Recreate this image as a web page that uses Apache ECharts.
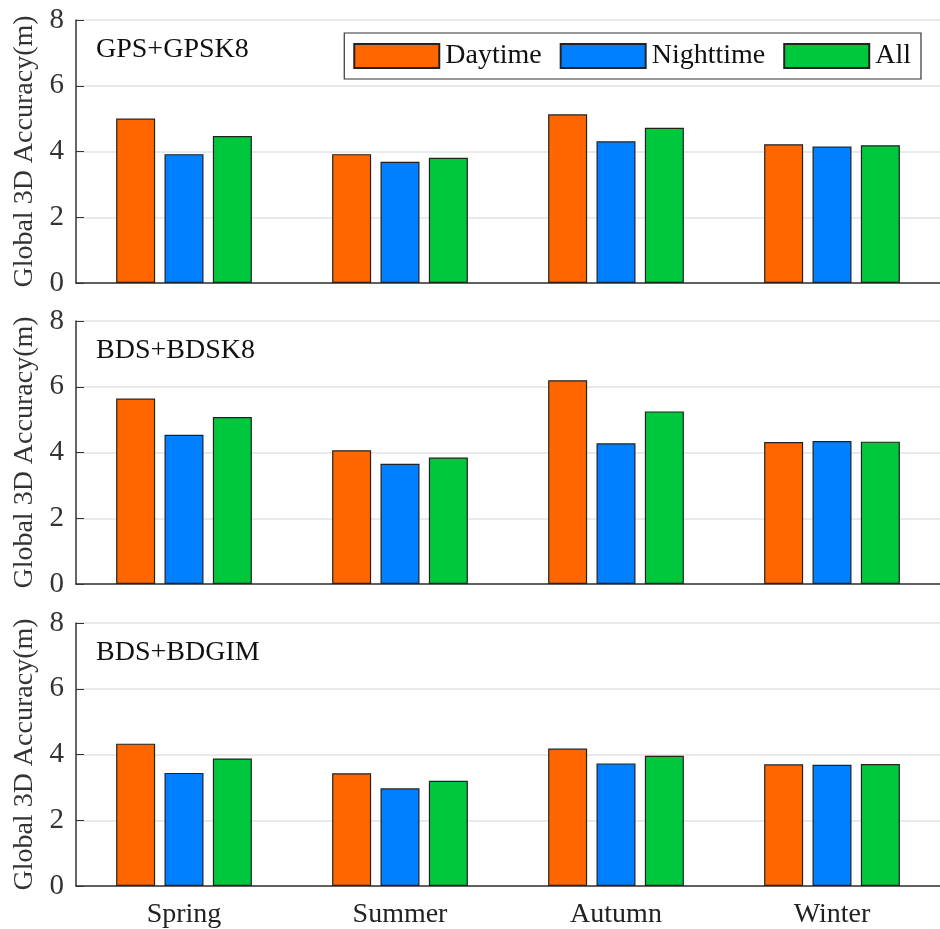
<!DOCTYPE html>
<html>
<head>
<meta charset="utf-8">
<script src="https://cdn.jsdelivr.net/npm/echarts@6/dist/echarts.min.js"></script>
<style>
  html, body { margin: 0; padding: 0; background: #fff; }
  #chart { width: 940px; height: 929px; }
</style>
</head>
<body>
<div id="chart"></div>
<script>
var seasons = ['Spring', 'Summer', 'Autumn', 'Winter'];
var panelTitles = ['GPS+GPSK8', 'BDS+BDSK8', 'BDS+BDGIM'];
var yTicks = [0, 2, 4, 6, 8];

// values per panel: Daytime, Nighttime, All
var gpsDay = [5.00, 3.92, 5.13, 4.22];
var gpsNight = [3.92, 3.69, 4.31, 4.15];
var gpsAll = [4.47, 3.81, 4.72, 4.19];

var bdsDay = [5.64, 4.07, 6.20, 4.32];
var bdsNight = [4.54, 3.66, 4.28, 4.35];
var bdsAll = [5.08, 3.85, 5.25, 4.33];

var bdgimDay = [4.33, 3.43, 4.18, 3.70];
var bdgimNight = [3.44, 2.97, 3.73, 3.69];
var bdgimAll = [3.88, 3.20, 3.96, 3.71];

var panelData = [
    [gpsDay, gpsNight, gpsAll],
    [bdsDay, bdsNight, bdsAll],
    [bdgimDay, bdgimNight, bdgimAll]
];
var seriesNames = ['Daytime', 'Nighttime', 'All'];
var colors = ['#ff6600', '#0080ff', '#00c83c'];

var font = '"Liberation Serif", "Times New Roman", serif';
var gridTops = [20, 321, 623];
var gridHeight = 263;

var grids = [], xAxes = [], yAxes = [], titles = [], series = [];
for (var p = 0; p < 3; p++) {
    grids.push({left: 76, top: gridTops[p], width: 870, height: gridHeight});
    xAxes.push({
        type: 'category',
        gridIndex: p,
        data: seasons,
        axisLine: {lineStyle: {color: '#333', width: 1.5}},
        axisTick: {inside: true, length: 9, alignWithLabel: true, lineStyle: {color: '#333'}},
        axisLabel: {
            show: p === 2,
            fontFamily: font, fontSize: 28, color: '#222', margin: 15
        }
    });
    yAxes.push({
        type: 'value',
        gridIndex: p,
        min: 0, max: 8, interval: 2,
        name: 'Global 3D Accuracy(m)',
        nameLocation: 'middle',
        nameGap: 28,
        nameTextStyle: {fontFamily: font, fontSize: 28, color: '#333'},
        axisLine: {show: true, lineStyle: {color: '#333', width: 1.5}},
        axisTick: {show: true, inside: true, length: 8, lineStyle: {color: '#333'}},
        axisLabel: {fontFamily: font, fontSize: 29, color: '#333', margin: 12},
        splitLine: {lineStyle: {color: '#e3e3e3', width: 1.5}}
    });
    titles.push({
        text: panelTitles[p],
        left: 91,
        top: gridTops[p] + 11,
        textStyle: {fontFamily: font, fontSize: 28, fontWeight: 'normal', color: '#111'}
    });
    for (var s = 0; s < 3; s++) {
        series.push({
            name: seriesNames[s],
            type: 'bar',
            xAxisIndex: p,
            yAxisIndex: p,
            data: panelData[p][s],
            barWidth: 39,
            barGap: '24%',
            itemStyle: {color: colors[s], borderColor: '#222', borderWidth: 1.2},
            emphasis: {disabled: true}
        });
    }
}

var chart = echarts.init(document.getElementById('chart'), null, {renderer: 'canvas'});
chart.setOption({
    animation: false,
    backgroundColor: '#fff',
    title: titles,
    legend: {
        data: seriesNames,
        icon: 'rect',
        right: 19,
        top: 33,
        orient: 'horizontal',
        itemWidth: 85,
        itemHeight: 24,
        itemGap: 18,
        padding: [9, 10, 9, 9],
        borderColor: '#333',
        borderWidth: 1.2,
        textStyle: {fontFamily: font, fontSize: 28, lineHeight: 24, color: '#111', padding: [0, 0, 0, 1]}
    },
    grid: grids,
    xAxis: xAxes,
    yAxis: yAxes,
    series: series
});
</script>
</body>
</html>
